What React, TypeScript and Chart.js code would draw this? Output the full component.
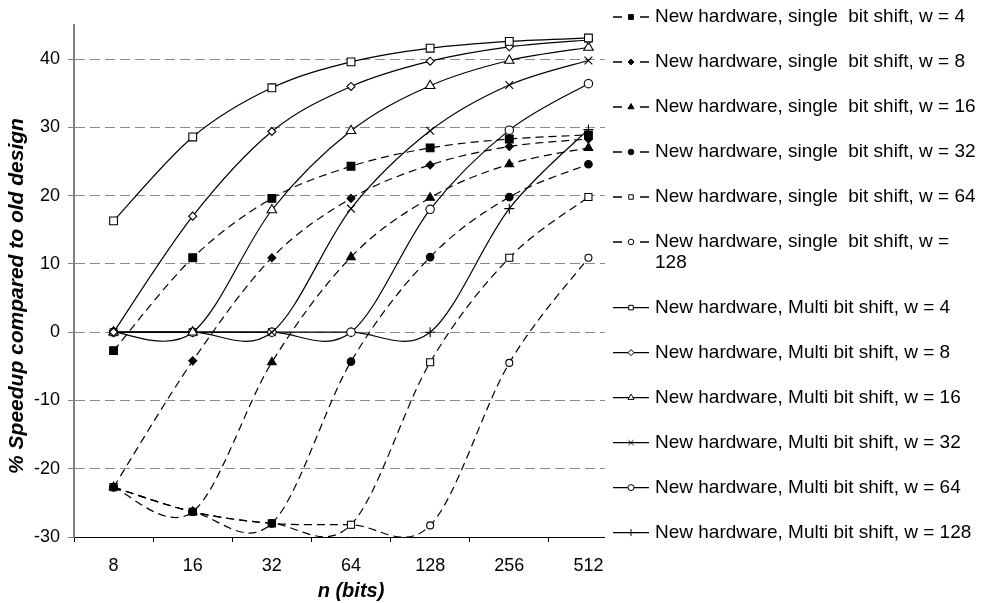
import React, { useEffect, useRef } from 'react';
import { Chart, registerables } from 'chart.js';

Chart.register(...registerables);

const categories = ['8', '16', '32', '64', '128', '256', '512'];
const yTicks = [-30, -20, -10, 0, 10, 20, 30, 40];

const singleW4 = [-2.7, 10.9, 19.6, 24.3, 27.0, 28.3, 28.9];
const singleW8 = [-22.7, -4.2, 10.9, 19.6, 24.5, 27.2, 28.3];
const singleW16 = [-22.7, -26.3, -4.4, 11.0, 19.7, 24.6, 27.0];
const singleW32 = [-22.7, -26.3, -28.0, -4.3, 11.0, 19.8, 24.6];
const singleW64 = [-22.7, -26.3, -28.0, -28.2, -4.4, 10.9, 19.8];
const singleW128 = [-22.7, -26.3, -28.0, -28.2, -28.3, -4.5, 10.9];
const multiW4 = [16.3, 28.6, 35.8, 39.6, 41.6, 42.6, 43.1];
const multiW8 = [0, 17.0, 29.4, 36.0, 39.7, 41.8, 42.8];
const multiW16 = [0, 0, 17.9, 29.5, 36.1, 39.8, 41.7];
const multiW32 = [0, 0, 0, 18.1, 29.5, 36.2, 39.8];
const multiW64 = [0, 0, 0, 0, 18.0, 29.6, 36.4];
const multiW128 = [0, 0, 0, 0, 0, 18.1, 29.7];

const seriesData = [singleW4, singleW8, singleW16, singleW32, singleW64, singleW128, multiW4, multiW8, multiW16, multiW32, multiW64, multiW128];

const seriesLabels: string[][] = [
  ['New hardware, single  bit shift, w = 4'],
  ['New hardware, single  bit shift, w = 8'],
  ['New hardware, single  bit shift, w = 16'],
  ['New hardware, single  bit shift, w = 32'],
  ['New hardware, single  bit shift, w = 64'],
  ['New hardware, single  bit shift, w =', '128'],
  ['New hardware, Multi bit shift, w = 4'],
  ['New hardware, Multi bit shift, w = 8'],
  ['New hardware, Multi bit shift, w = 16'],
  ['New hardware, Multi bit shift, w = 32'],
  ['New hardware, Multi bit shift, w = 64'],
  ['New hardware, Multi bit shift, w = 128'],
];

const yTitle = '% Speedup compared to old design';
const xTitle = 'n (bits)';

const FONT = '"Liberation Sans", Arial, Helvetica, sans-serif';

type Sym = { style: string; r: number; lr: number; fill: string; dashed: boolean };
const symbols: Sym[] = [
  { style: 'rect', r: 5.5, lr: 3.4, fill: '#000', dashed: true },
  { style: 'rectRot', r: 4, lr: 3, fill: '#000', dashed: true },
  { style: 'triangle', r: 5, lr: 3.5, fill: '#000', dashed: true },
  { style: 'circle', r: 3.8, lr: 2.8, fill: '#000', dashed: true },
  { style: 'rect', r: 5, lr: 3.2, fill: '#fff', dashed: true },
  { style: 'circle', r: 3.5, lr: 2.8, fill: '#fff', dashed: true },
  { style: 'rect', r: 5.5, lr: 3.2, fill: '#fff', dashed: false },
  { style: 'rectRot', r: 4, lr: 3, fill: '#fff', dashed: false },
  { style: 'triangle', r: 5.5, lr: 3.5, fill: '#fff', dashed: false },
  { style: 'crossRot', r: 5.5, lr: 3.5, fill: '#fff', dashed: false },
  { style: 'circle', r: 4.2, lr: 3, fill: '#fff', dashed: false },
  { style: 'cross', r: 5, lr: 3.5, fill: '#fff', dashed: false },
];

function drawMarker(ctx: CanvasRenderingContext2D, style: string, x: number, y: number, r: number, fill: string) {
  ctx.beginPath();
  if (style === 'rect') {
    const s = r * Math.SQRT1_2;
    ctx.rect(x - s, y - s, 2 * s, 2 * s);
  } else if (style === 'rectRot') {
    ctx.moveTo(x, y - r);
    ctx.lineTo(x + r, y);
    ctx.lineTo(x, y + r);
    ctx.lineTo(x - r, y);
    ctx.closePath();
  } else if (style === 'triangle') {
    ctx.moveTo(x, y - r);
    ctx.lineTo(x + r * 0.866, y + r * 0.5);
    ctx.lineTo(x - r * 0.866, y + r * 0.5);
    ctx.closePath();
  } else if (style === 'circle') {
    ctx.arc(x, y, r, 0, Math.PI * 2);
  } else if (style === 'cross') {
    ctx.moveTo(x - r, y);
    ctx.lineTo(x + r, y);
    ctx.moveTo(x, y - r);
    ctx.lineTo(x, y + r);
    ctx.stroke();
    return;
  } else if (style === 'crossRot') {
    const s = r * Math.SQRT1_2;
    ctx.moveTo(x - s, y - s);
    ctx.lineTo(x + s, y + s);
    ctx.moveTo(x + s, y - s);
    ctx.lineTo(x - s, y + s);
    ctx.stroke();
    return;
  }
  ctx.fillStyle = fill;
  ctx.fill();
  ctx.stroke();
}

// Excel-like smoothing: uniform Catmull-Rom control points (1/6 of neighbour span)
const catmullRomPlugin = {
  id: 'catmullRom',
  beforeDatasetDraw(chart: any, args: any) {
    const meta = chart.getDatasetMeta(args.index);
    const line = meta.dataset;
    if (!line) return;
    line.updateControlPoints(chart.chartArea, 'x');
    const pts = meta.data;
    const n = pts.length;
    for (let i = 0; i < n; i++) {
      const p = pts[i];
      const prev = pts[Math.max(0, i - 1)];
      const next = pts[Math.min(n - 1, i + 1)];
      const dx = (next.x - prev.x) / 6;
      const dy = (next.y - prev.y) / 6;
      p.cp1x = p.x - dx;
      p.cp1y = p.y - dy;
      p.cp2x = p.x + dx;
      p.cp2y = p.y + dy;
    }
    line._path = undefined;
  },
};

const yTitlePlugin = {
  id: 'yTitle',
  afterDraw(chart: any) {
    const ctx: CanvasRenderingContext2D = chart.ctx;
    ctx.save();
    ctx.translate(17, 296);
    ctx.rotate(-Math.PI / 2);
    ctx.font = `italic bold 21px ${FONT}`;
    ctx.fillStyle = '#000';
    ctx.textAlign = 'center';
    ctx.textBaseline = 'middle';
    ctx.fillText(yTitle, 0, 0);
    ctx.restore();
  },
};

const legendPlugin = {
  id: 'customLegend',
  afterDraw(chart: any) {
    const ctx: CanvasRenderingContext2D = chart.ctx;
    ctx.save();
    ctx.fillStyle = '#fff';
    ctx.fillRect(605, 0, chart.width - 605, chart.height);
    ctx.font = `19px ${FONT}`;
    ctx.textBaseline = 'middle';
    ctx.textAlign = 'left';
    const step = 45;
    const lineH = 20.6;
    let y = 17;
    for (let i = 0; i < seriesLabels.length; i++) {
      const sym = symbols[i];
      const lines = seriesLabels[i];
      ctx.strokeStyle = '#000';
      ctx.lineWidth = 1.3;
      ctx.setLineDash([]);
      ctx.beginPath();
      if (sym.dashed) {
        ctx.moveTo(613, y);
        ctx.lineTo(622, y);
        ctx.moveTo(640, y);
        ctx.lineTo(649, y);
      } else {
        ctx.moveTo(613, y);
        ctx.lineTo(649, y);
      }
      ctx.stroke();
      ctx.lineWidth = 1;
      drawMarker(ctx, sym.style, 631, y, sym.lr, sym.fill);
      ctx.fillStyle = '#000';
      for (let k = 0; k < lines.length; k++) {
        ctx.fillText(lines[k], 655, y + k * lineH);
      }
      const nextExtra = i + 1 < seriesLabels.length ? (seriesLabels[i + 1].length - 1) * lineH / 2 : 0;
      y += step + (lines.length - 1) * lineH * 1.0 + nextExtra * 0 + (lines.length > 1 ? 0 : 0);
      if (i + 1 < seriesLabels.length && seriesLabels[i + 1].length > 1) y += 0;
      void nextExtra;
    }
    ctx.restore();
  },
};

export default function App() {
  const ref = useRef<HTMLCanvasElement | null>(null);

  useEffect(() => {
    document.body.style.margin = '0';
    const canvas = ref.current;
    if (!canvas) return;
    const datasets = seriesData.map((d, i) => {
      const sym = symbols[i];
      return {
        label: seriesLabels[i].join(' '),
        data: d,
        borderColor: '#000',
        borderWidth: 1.2,
        borderDash: sym.dashed ? [8, 5] : [],
        pointStyle: sym.style,
        pointRadius: sym.r,
        pointBackgroundColor: sym.fill,
        pointBorderColor: '#000',
        pointBorderWidth: 1.1,
        tension: 0.3,
        fill: false,
        clip: 4,
      };
    });
    const chart = new Chart(canvas, {
      type: 'line',
      data: { labels: categories, datasets: datasets as any },
      plugins: [catmullRomPlugin, yTitlePlugin, legendPlugin],
      options: {
        animation: false,
        responsive: false,
        maintainAspectRatio: false,
        layout: { padding: { left: 0, right: 360, top: 25, bottom: 0 } },
        plugins: {
          legend: { display: false },
          tooltip: { enabled: false },
        },
        scales: {
          x: {
            type: 'category',
            offset: true,
            grid: {
              offset: true,
              drawOnChartArea: false,
              color: '#000',
              tickColor: '#000',
              tickLength: 5,
            },
            border: { display: true, color: '#000', width: 1 },
            ticks: {
              color: '#000',
              font: { family: FONT, size: 18 },
              padding: 13,
              maxRotation: 0,
              autoSkip: false,
            },
            title: {
              display: true,
              text: xTitle,
              color: '#000',
              font: { family: FONT, size: 20, weight: 'bold', style: 'italic' },
              padding: { top: 0, bottom: 0 },
            },
            afterFit: (s: any) => {
              s.height = 66;
            },
          },
          y: {
            type: 'linear',
            min: -30,
            max: 45,
            afterBuildTicks: (s: any) => {
              s.ticks = yTicks.map((v) => ({ value: v }));
            },
            grid: {
              color: (c: any) => (c.tick && c.tick.value === -30 ? 'rgba(0,0,0,0)' : '#8c8c8c'),
              tickColor: '#808080',
              tickLength: 6,
              lineWidth: 1,
            },
            border: { display: true, color: '#808080', width: 2, dash: [10, 5] },
            ticks: {
              color: '#000',
              font: { family: FONT, size: 18 },
              padding: 8,
            },
            title: { display: false },
            afterFit: (s: any) => {
              s.width = 74;
            },
          },
        },
      } as any,
    });
    return () => {
      chart.destroy();
    };
  }, []);

  return (
    <div style={{ width: 988, height: 603, position: 'relative', background: '#fff' }}>
      <canvas ref={ref} width={988} height={603} style={{ display: 'block' }} />
    </div>
  );
}
